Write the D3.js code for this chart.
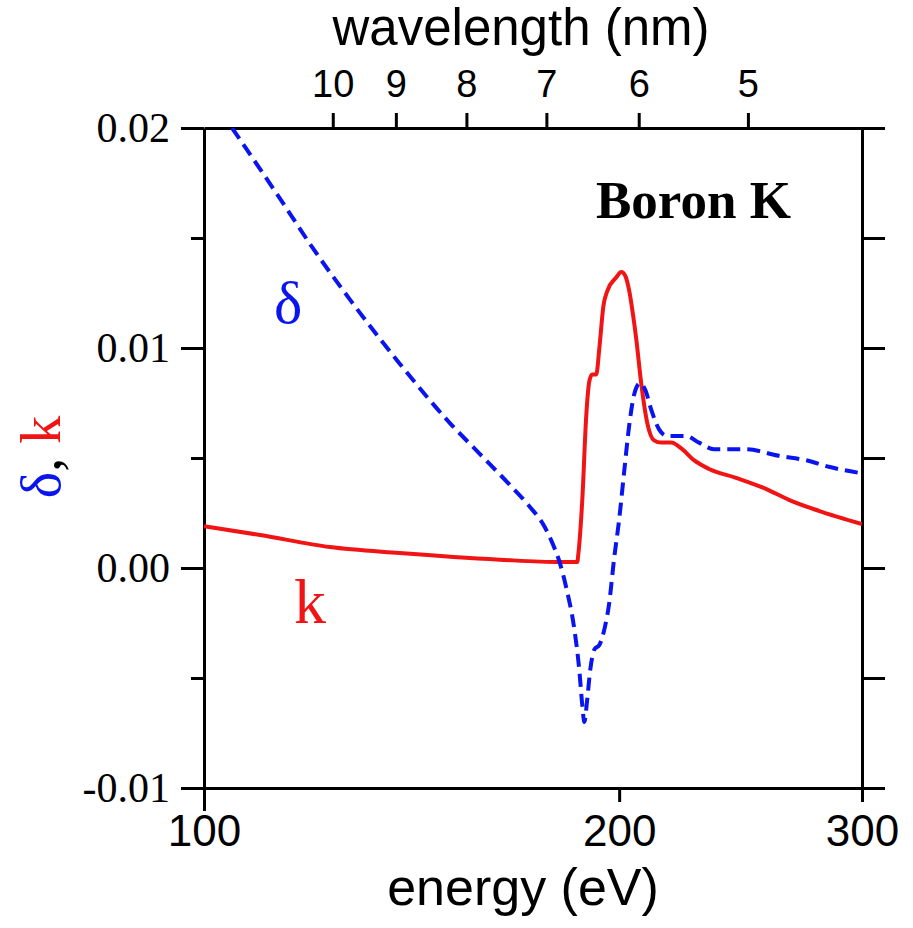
<!DOCTYPE html>
<html>
<head>
<meta charset="utf-8">
<title>Boron K</title>
<script src="https://d3js.org/d3.v7.min.js"></script>
<style>
  body { margin: 0; background: #fff; }
  .axis path, .axis line { stroke: #000; stroke-width: 3; }
</style>
</head>
<body>
<script>
// k (absorptive part), red solid line
var energyK = [100, 109.8, 123.4, 138.6, 163.8, 181.0, 186.5, 186.8, 188.1, 189.3, 190.3, 191.2, 192.5,
  193.5, 194.8, 196.1, 199.0, 200.7, 202.0, 203.4, 204.7, 205.8, 207.5, 209.6, 212.0, 214.5, 218.1,
  222.2, 226.6, 232.4, 243.1, 255.5, 265.5, 279.1, 300];
var kValues = [0.0019, 0.00150, 0.00095, 0.00068, 0.00038, 0.00027, 0.00027, 0.0006, 0.0032, 0.0069, 0.0085, 0.0088, 0.0088,
  0.0100, 0.0119, 0.0126, 0.0132, 0.01345, 0.0133, 0.0126, 0.0115, 0.0104, 0.0084, 0.0066, 0.0058, 0.0057, 0.0057,
  0.0054, 0.0049, 0.0045, 0.0041, 0.0036, 0.0031, 0.0026, 0.0020];

// delta (refractive decrement), blue dashed line
var energyDelta = [104.8, 113.5, 119.9, 127.6, 138.6, 150.7, 158.4, 166.5, 172.2, 176.5, 179.0, 181.0, 183.1, 185.6,
  187.1, 188.1, 188.7, 189.6, 190.6, 191.9, 193.5, 195.1, 196.7, 198.3, 200.0, 201.7, 203.4, 205.1,
  207.1, 208.9, 211.0, 213.8, 216.7, 223.7, 228.5, 234.3, 247.1, 261.1, 273.1, 283.8, 300];
var deltaValues = [0.0200, 0.0168, 0.01455, 0.0122, 0.0093, 0.0066, 0.0052, 0.0038, 0.0028, 0.0019, 0.0011, 0.0003, -0.0009, -0.0028,
  -0.0046, -0.0063, -0.0070, -0.0060, -0.0046, -0.0037, -0.0035, -0.0028, -0.0016, 0.0004, 0.0022, 0.0044, 0.0065, 0.0079,
  0.0084, 0.0081, 0.0072, 0.0063, 0.0060, 0.0060, 0.0057, 0.0054, 0.0054, 0.0051, 0.0049, 0.0046, 0.0043];

var yTicks = [-0.01, -0.005, 0, 0.005, 0.01, 0.015, 0.02];
var yLabelled = [-0.01, 0, 0.01, 0.02];
var energyTicks = [100, 200, 300];
var wavelengthTicks = [10, 9, 8, 7, 6, 5];
var hc = 1239.84; // eV nm

var svgWidth = 913, svgHeight = 928;
var margin = {top: 128, right: 51, bottom: 140, left: 204},
    width = svgWidth - margin.left - margin.right,
    height = svgHeight - margin.top - margin.bottom;

var svg = d3.select("body").append("svg")
  .attr("width", svgWidth)
  .attr("height", svgHeight);

var g = svg.append("g")
  .attr("transform", "translate(" + margin.left + "," + margin.top + ")");

var x = d3.scaleLog().domain([100, 300]).range([0, width]);
// wavelength is hc/E, so it is also a log scale on the same range
var xw = d3.scaleLog().domain([hc / 100, hc / 300]).range([0, width]);
var y = d3.scaleLinear().domain([-0.01, 0.02]).range([height, 0]);

g.append("clipPath").attr("id", "plotclip")
  .append("rect").attr("width", width).attr("height", height);

// left axis: long ticks with labels, short minor ticks
var yLeft = g.append("g").attr("class", "axis")
  .call(d3.axisLeft(y).tickValues(yTicks).tickSize(23).tickSizeOuter(0).tickPadding(11)
    .tickFormat(function(d) { return yLabelled.indexOf(d) >= 0 ? d.toFixed(2) : ""; }));
yLeft.selectAll(".tick line").attr("x2", function(d) { return yLabelled.indexOf(d) >= 0 ? -23 : -13; });
yLeft.selectAll(".tick text")
  .attr("font-family", "'Liberation Serif', 'Times New Roman', serif")
  .attr("font-size", 42).attr("fill", "#000");

// right axis
g.append("g").attr("class", "axis")
  .attr("transform", "translate(" + width + ",0)")
  .call(d3.axisRight(y).tickValues(yTicks).tickSize(23).tickSizeOuter(0).tickFormat(""));

// bottom energy axis
var xBottom = g.append("g").attr("class", "axis")
  .attr("transform", "translate(0," + height + ")")
  .call(d3.axisBottom(x).tickValues(energyTicks).tickSize(14).tickSizeOuter(0).tickPadding(13)
    .tickFormat(d3.format("d")));
xBottom.selectAll(".tick line").attr("y2", function(d) { return d === 100 ? 23 : 14; });
xBottom.selectAll(".tick text")
  .attr("font-family", "'Liberation Sans', Arial, sans-serif")
  .attr("font-size", 44).attr("fill", "#000");

// top wavelength axis
var xTop = g.append("g").attr("class", "axis")
  .call(d3.axisTop(xw).tickValues(wavelengthTicks).tickSize(15).tickSizeOuter(0).tickPadding(16)
    .tickFormat(d3.format("d")));
xTop.selectAll(".tick text")
  .attr("font-family", "'Liberation Sans', Arial, sans-serif")
  .attr("font-size", 38).attr("fill", "#000");

// curves
var kLine = d3.line()
  .x(function(d, i) { return x(energyK[i]); })
  .y(function(d) { return y(d); })
  .curve(d3.curveMonotoneX);

var deltaLine = d3.line()
  .x(function(d, i) { return x(energyDelta[i]); })
  .y(function(d) { return y(d); })
  .curve(d3.curveMonotoneX);

var plot = g.append("g").attr("clip-path", "url(#plotclip)");

plot.append("path")
  .attr("d", kLine(kValues))
  .attr("fill", "none")
  .attr("stroke", "#f01414")
  .attr("stroke-width", 4)
  .attr("stroke-linejoin", "round");

plot.append("path")
  .attr("d", deltaLine(deltaValues))
  .attr("fill", "none")
  .attr("stroke", "#0a14ee")
  .attr("stroke-width", 4)
  .attr("stroke-dasharray", "13,7");

// annotations
svg.append("text")
  .attr("x", 596).attr("y", 218)
  .attr("font-family", "'Liberation Serif', 'Times New Roman', serif")
  .attr("font-weight", "bold").attr("font-size", 53)
  .text("Boron K");

svg.append("text")
  .attr("x", 274).attr("y", 323)
  .attr("font-family", "'Liberation Serif', 'Times New Roman', serif")
  .attr("font-size", 60).attr("fill", "#0a14ee")
  .text("δ");

svg.append("text")
  .attr("x", 294).attr("y", 623)
  .attr("font-family", "'Liberation Serif', 'Times New Roman', serif")
  .attr("font-size", 64).attr("fill", "#f01414")
  .text("k");

// axis titles
svg.append("text")
  .attr("x", 521).attr("y", 45)
  .attr("text-anchor", "middle")
  .attr("font-family", "'Liberation Sans', Arial, sans-serif")
  .attr("font-size", 51)
  .text("wavelength (nm)");

svg.append("text")
  .attr("x", 523).attr("y", 905)
  .attr("text-anchor", "middle")
  .attr("font-family", "'Liberation Sans', Arial, sans-serif")
  .attr("font-size", 52)
  .text("energy (eV)");

var yTitle = svg.append("text")
  .attr("transform", "translate(60,457) rotate(-90)")
  .attr("text-anchor", "middle")
  .attr("font-family", "'Liberation Serif', 'Times New Roman', serif")
  .attr("font-size", 56);
yTitle.append("tspan").attr("fill", "#0a14ee").text("δ");
yTitle.append("tspan").attr("fill", "#000").text(", ");
yTitle.append("tspan").attr("fill", "#f01414").text("k");
</script>
</body>
</html>
